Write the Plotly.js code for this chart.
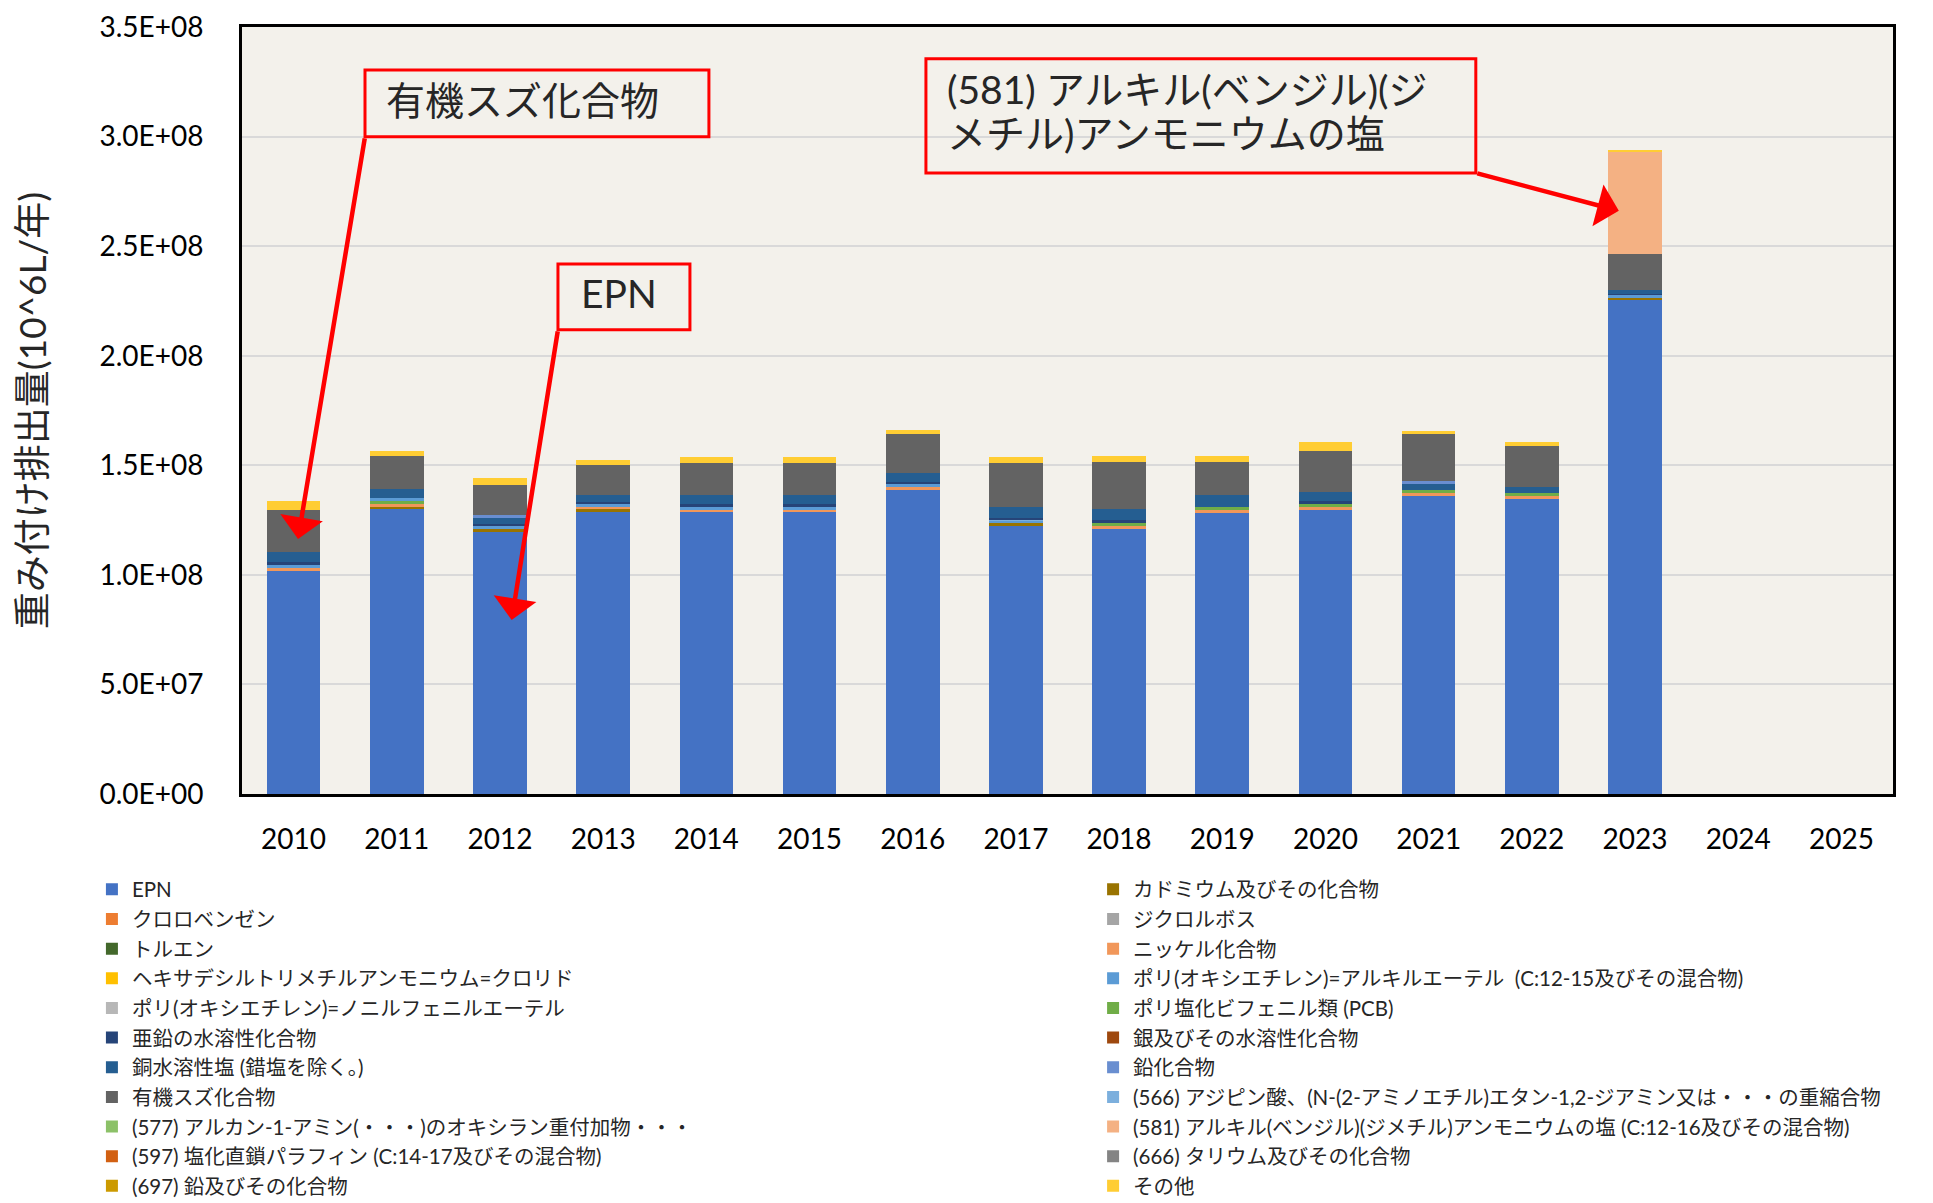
<!DOCTYPE html>
<html>
<head>
<meta charset="utf-8">
<script src="https://cdn.plot.ly/plotly-3.0.1.min.js"></script>
<style>html,body{margin:0;padding:0;background:#ffffff;overflow:hidden}</style>
</head>
<body>
<div id="chart" style="width:1933px;height:1203px"></div>
<script>
// ---- categories ----
const years = ['2010','2011','2012','2013','2014','2015','2016','2017','2018','2019','2020','2021','2022','2023','2024','2025'];
const dataYears = ['2010','2011','2012','2013','2014','2015','2016','2017','2018','2019','2020','2021','2022','2023'];

// ---- y tick labels ----
const yTickVals = [0, 0.5e8, 1.0e8, 1.5e8, 2.0e8, 2.5e8, 3.0e8, 3.5e8];
const yTickLabels = ['0.0E+00','5.0E+07','1.0E+08','1.5E+08','2.0E+08','2.5E+08','3.0E+08','3.5E+08'];

// ---- series values (weighted emission, 2010..2023) ----
const epn          = [101.9e6,129.9e6,119.6e6,128.8e6,128.5e6,128.5e6,138.7e6,122.2e6,120.9e6,128.3e6,129.7e6,136.0e6,134.7e6,225.3e6];
const cadmium      = [0,1.2e6,1.3e6,1.1e6,0,0,0,1.5e6,0,0,0,0,0,1.0e6];
const s697         = [0,0,0,0,0,0,0,0,0,0,0,0,0,0];
const chlorobenz   = [0,0,0,0,0,0,0,0,0,0,0,0,0,0];
const nickel       = [1.2e6,1.4e6,0,0.9e6,1.3e6,1.3e6,1.3e6,0,1.4e6,1.5e6,1.4e6,1.4e6,1.4e6,0];
const s597         = [0,0,0,0,0,0,0,0,0,0,0,0,0,0];
const toluene      = [0,0,0,0,0,0,0,0,0,0,0,0,0,0];
const pcb          = [0,1.2e6,0,0,0,0,0,0,1.4e6,1.2e6,1.3e6,1.3e6,1.4e6,0];
const s577         = [0,0,0,0,0,0,0,0,0,0,0,0,0,0];
const polyAlkyl    = [1.3e6,1.2e6,1.3e6,1.5e6,1.2e6,1.2e6,1.5e6,1.0e6,0,0,0,0,0,1.2e6];
const s566         = [0,0,0,0,0,0,0,0.5e6,0,0,0,0,0,0];
const dichlorvos   = [0,0,0,0,0,0,0,0,0,0,0,0,0,0];
const polyNonyl    = [0,0,0,0,0,0,0,0,0,0,0,0,0,0];
const zinc         = [1.5e6,0,1.1e6,1.0e6,1.2e6,1.2e6,1.0e6,0.9e6,1.4e6,0,1.3e6,0,0,0.8e6];
const copper       = [4.7e6,4.1e6,2.6e6,3.0e6,4.1e6,4.1e6,3.9e6,4.8e6,4.8e6,5.4e6,4.0e6,2.7e6,2.5e6,1.8e6];
const lead         = [0,0,1.2e6,0,0,0,0,0,0,0,0,1.5e6,0,0];
const silver       = [0,0,0,0,0,0,0,0,0,0,0,0,0,0];
const hexadecyl    = [0,0,0,0,0,0,0,0,0,0,0,0,0,0];
const organotin    = [19.2e6,15.2e6,14.0e6,13.7e6,14.8e6,14.8e6,17.9e6,20.2e6,21.6e6,15.0e6,18.9e6,21.3e6,18.9e6,16.5e6];
const s666         = [0,0,0,0,0,0,0,0,0,0,0,0,0,0];
const s581         = [0,0,0,0,0,0,0,0,0,0,0,0,0,46.3e6];
const others       = [3.8e6,2.3e6,3.3e6,2.6e6,2.6e6,2.6e6,1.8e6,2.8e6,2.8e6,2.8e6,3.9e6,1.5e6,1.6e6,1.1e6];

// ---- series table (stack order bottom -> top) ----
const series = [
  {name:'EPN', y:epn, color:'#4472C4', legend:'legend', rank:1},
  {name:'カドミウム及びその化合物', y:cadmium, color:'#997300', legend:'legend2', rank:1},
  {name:'(697) 鉛及びその化合物', y:s697, color:'#CC9A00', legend:'legend', rank:11},
  {name:'クロロベンゼン', y:chlorobenz, color:'#ED7D31', legend:'legend', rank:2},
  {name:'ニッケル化合物', y:nickel, color:'#F1975A', legend:'legend2', rank:3},
  {name:'(597) 塩化直鎖パラフィン (C:14-17及びその混合物)', y:s597, color:'#D26012', legend:'legend', rank:10},
  {name:'トルエン', y:toluene, color:'#43682B', legend:'legend', rank:3},
  {name:'ポリ塩化ビフェニル類 (PCB)', y:pcb, color:'#70AD47', legend:'legend2', rank:5},
  {name:'(577) アルカン-1-アミン(・・・)のオキシラン重付加物・・・', y:s577, color:'#8CC168', legend:'legend', rank:9},
  {name:'ポリ(オキシエチレン)=アルキルエーテル  (C:12-15及びその混合物)', y:polyAlkyl, color:'#5B9BD5', legend:'legend2', rank:4},
  {name:'(566) アジピン酸、(N-(2-アミノエチル)エタン-1,2-ジアミン又は・・・の重縮合物', y:s566, color:'#7CAFDD', legend:'legend2', rank:8},
  {name:'ジクロルボス', y:dichlorvos, color:'#A5A5A5', legend:'legend2', rank:2},
  {name:'ポリ(オキシエチレン)=ノニルフェニルエーテル', y:polyNonyl, color:'#B7B7B7', legend:'legend', rank:5},
  {name:'亜鉛の水溶性化合物', y:zinc, color:'#264478', legend:'legend', rank:6},
  {name:'銅水溶性塩 (錯塩を除く。)', y:copper, color:'#255E91', legend:'legend', rank:7},
  {name:'鉛化合物', y:lead, color:'#698ED0', legend:'legend2', rank:7},
  {name:'銀及びその水溶性化合物', y:silver, color:'#9E480E', legend:'legend2', rank:6},
  {name:'ヘキサデシルトリメチルアンモニウム=クロリド', y:hexadecyl, color:'#FFC000', legend:'legend', rank:4},
  {name:'有機スズ化合物', y:organotin, color:'#636363', legend:'legend', rank:8},
  {name:'(666) タリウム及びその化合物', y:s666, color:'#848484', legend:'legend2', rank:10},
  {name:'(581) アルキル(ベンジル)(ジメチル)アンモニウムの塩 (C:12-16及びその混合物)', y:s581, color:'#F4B183', legend:'legend2', rank:9},
  {name:'その他', y:others, color:'#FFCD33', legend:'legend2', rank:11}
];

const FONT = "Lato, 'Noto Sans CJK JP', sans-serif";

const traces = series.map(s => ({
  type:'bar', name:s.name, x:dataYears, y:s.y,
  marker:{color:s.color, line:{width:0}},
  legend:s.legend, legendrank:s.rank, hoverinfo:'name+y'
}));

const legendCommon = {
  orientation:'v', traceorder:'normal', bgcolor:'rgba(0,0,0,0)',
  xanchor:'left', yanchor:'top', tracegroupgap:0, itemwidth:30,
  font:{family:FONT, size:20.5, color:'#262626'}
};

const red = '#FF0000';
const boxFont = {family:FONT, size:39, color:'#262626'};

const layout = {
  width:1933, height:1203,
  margin:{l:242, r:40, t:27, b:409, autoexpand:false},
  paper_bgcolor:'#ffffff',
  plot_bgcolor:'#F3F1EB',
  barmode:'stack',
  bargap:0.48,
  showlegend:true,
  legend:Object.assign({x:-0.0909, y:-0.0985}, legendCommon),
  legend2:Object.assign({x:0.5155, y:-0.0985}, legendCommon),
  xaxis:{
    type:'category', categoryorder:'array', categoryarray:years,
    range:[-0.5, 15.5],
    showline:true, linecolor:'#000', linewidth:3, mirror:true,
    showgrid:false, ticks:'', ticklabelstandoff:18,
    tickfont:{family:FONT, size:28, color:'#000'},
    automargin:false
  },
  yaxis:{
    range:[0, 3.5e8], tickvals:yTickVals, ticktext:yTickLabels,
    showline:true, linecolor:'#000', linewidth:3, mirror:true,
    showgrid:true, gridcolor:'#D9D9D9', gridwidth:2, zeroline:false,
    ticks:'', ticklabelstandoff:30,
    tickfont:{family:FONT, size:28, color:'#000'},
    title:{text:'重み付け排出量(10^6L/年)', font:{family:FONT, size:37, color:'#262626'}, standoff:42},
    automargin:false
  },
  shapes:[
    {type:'rect', xref:'x', yref:'y', x0:0.692, x1:4.025, y0:299.9e6, y1:330.4e6, line:{color:red, width:3}, fillcolor:'rgba(0,0,0,0)'},
    {type:'rect', xref:'x', yref:'y', x0:2.562, x1:3.841, y0:211.8e6, y1:241.9e6, line:{color:red, width:3}, fillcolor:'rgba(0,0,0,0)'},
    {type:'rect', xref:'x', yref:'y', x0:6.128, x1:11.457, y0:283.4e6, y1:335.5e6, line:{color:red, width:3}, fillcolor:'rgba(0,0,0,0)'}
  ],
  annotations:[
    {xref:'x', yref:'y', x:0.88, y:316.8e6, xanchor:'left', yanchor:'middle', showarrow:false, text:'有機スズ化合物', font:boxFont},
    {xref:'x', yref:'y', x:2.766, y:228.5e6, xanchor:'left', yanchor:'middle', showarrow:false, text:'EPN', font:boxFont},
    {xref:'x', yref:'y', x:6.31, y:321.9e6, xanchor:'left', yanchor:'middle', align:'left', showarrow:false, text:'(581) アルキル(ベンジル)(ジ', font:boxFont},
    {xref:'x', yref:'y', x:6.31, y:301.7e6, xanchor:'left', yanchor:'middle', align:'left', showarrow:false, text:'メチル)アンモニウムの塩', font:boxFont},
    {xref:'x', yref:'y', axref:'x', ayref:'y', x:0.043, y:116.4e6, ax:0.692, ay:299.9e6, text:'', showarrow:true, arrowhead:1, arrowsize:1.6, arrowwidth:4.5, arrowcolor:red, standoff:0, startstandoff:0},
    {xref:'x', yref:'y', axref:'x', ayref:'y', x:2.113, y:79.4e6, ax:2.562, ay:211.8e6, text:'', showarrow:true, arrowhead:1, arrowsize:1.6, arrowwidth:4.5, arrowcolor:red, standoff:0, startstandoff:0},
    {xref:'x', yref:'y', axref:'x', ayref:'y', x:12.843, y:266.1e6, ax:11.457, ay:283.4e6, text:'', showarrow:true, arrowhead:1, arrowsize:1.6, arrowwidth:4.5, arrowcolor:red, standoff:0, startstandoff:0}
  ]
};

Plotly.newPlot('chart', traces, layout, {displayModeBar:false, staticPlot:true});
</script>
</body>
</html>
